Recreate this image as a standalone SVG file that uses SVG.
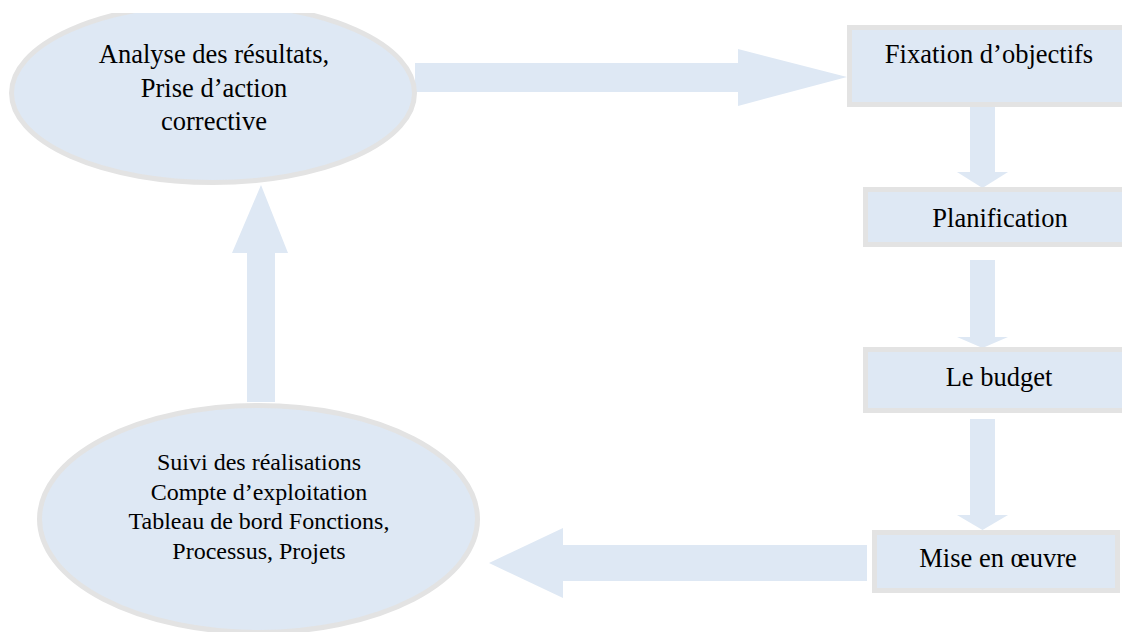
<svg xmlns="http://www.w3.org/2000/svg" width="1122" height="632" viewBox="0 0 1122 632">
<style>
.node{fill:#dee8f4;stroke:#e3e3e3;stroke-width:5}
.arrow{fill:#dee8f4;stroke:none}
.t{font-family:"Liberation Serif","Times New Roman",serif;fill:#000;text-anchor:middle}
.t26{font-size:26.5px}
.t24{font-size:24px}
</style>
<defs>
<clipPath id="clipTop"><rect x="0" y="13" width="1122" height="619"/></clipPath>
</defs>
<rect x="0" y="0" width="1122" height="632" fill="#ffffff"/>
<g id="connectors">
<polygon class="arrow" points="415,63 738,63 738,49 847,77 738,106 738,92 415,92"/>
<polygon class="arrow" points="970,107 995,107 995,172 1008,172 982.5,188 957,172 970,172"/>
<polygon class="arrow" points="970,260 995,260 995,337 1008,337 982.5,348 957,337 970,337"/>
<polygon class="arrow" points="970,419 995,419 995,515 1008,515 982.5,530 957,515 970,515"/>
<polygon class="arrow" points="867,545 867,581 563,581 563,598 489,563 563,528 563,545"/>
<polygon class="arrow" points="247,402 247,253 232,253 261,185 288,253 275,253 275,402"/>
</g>
<g id="node-analyse">
<ellipse class="node" cx="213" cy="93" rx="201.5" ry="89.5" clip-path="url(#clipTop)"/>
<text class="t t26" x="214" y="63">Analyse des résultats,</text>
<text class="t t26" x="214" y="97">Prise d’action</text>
<text class="t t26" x="214" y="130">corrective</text>
</g>
<g id="node-fixation">
<rect class="node" x="849.5" y="27.5" width="290" height="77"/>
<text class="t t26" x="989" y="63">Fixation d’objectifs</text>
</g>
<g id="node-planification">
<rect class="node" x="865.5" y="189.5" width="280" height="55"/>
<text class="t t26" x="1000" y="227">Planification</text>
</g>
<g id="node-budget">
<rect class="node" x="865.5" y="349.5" width="280" height="61"/>
<text class="t t26" x="999" y="386">Le budget</text>
</g>
<g id="node-mise">
<rect class="node" x="874.5" y="532.5" width="243" height="58"/>
<text class="t t26" x="998" y="567">Mise en œuvre</text>
</g>
<g id="node-suivi">
<ellipse class="node" cx="258.5" cy="519" rx="219" ry="113.5"/>
<text class="t t24" x="259" y="470">Suivi des réalisations</text>
<text class="t t24" x="259" y="500">Compte d’exploitation</text>
<text class="t t24" x="259" y="529">Tableau de bord Fonctions,</text>
<text class="t t24" x="259" y="559">Processus, Projets</text>
</g>
</svg>
